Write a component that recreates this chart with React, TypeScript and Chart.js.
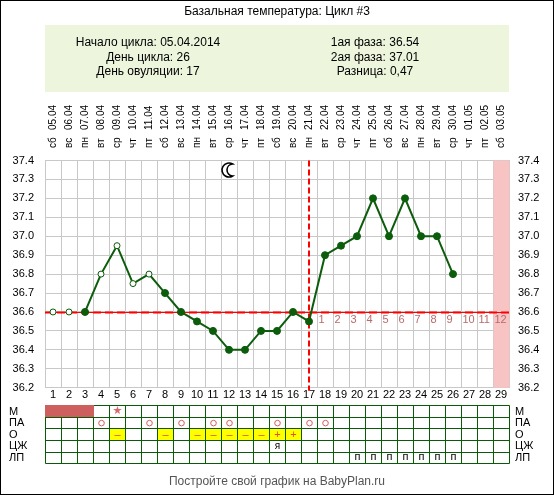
import { useEffect, useRef } from 'react';
import { Chart, registerables } from 'chart.js';

Chart.register(...registerables);

// ---------- data ----------
const days = ['1','2','3','4','5','6','7','8','9','10','11','12','13','14','15','16','17','18','19','20','21','22','23','24','25','26','27','28','29'];
const dates = ['05.04','06.04','07.04','08.04','09.04','10.04','11.04','12.04','13.04','14.04','15.04','16.04','17.04','18.04','19.04','20.04','21.04','22.04','23.04','24.04','25.04','26.04','27.04','28.04','29.04','30.04','01.05','02.05','03.05'];
const weekdays = ['сб','вс','пн','вт','ср','чт','пт','сб','вс','пн','вт','ср','чт','пт','сб','вс','пн','вт','ср','чт','пт','сб','вс','пн','вт','ср','чт','пт','сб'];
const temps = [36.6,36.6,36.6,36.8,36.95,36.75,36.8,36.7,36.6,36.55,36.5,36.4,36.4,36.5,36.5,36.6,36.55,36.9,36.95,37.0,37.2,37.0,37.2,37.0,37.0,36.8];
const openPointDays = [1,2,4,5,6,7];
const lineStartDay = 3;
const coverline = 36.6;
const ovulationDay = 17;
const phaseDays = [18,19,20,21,22,23,24,25,26,27,28,29];
const phaseLabels = ['1','2','3','4','5','6','7','8','9','10','11','12'];
const pinkDays = [29];
const moonDay = 12;
const moonValue = 37.35;
const yMin = 36.2;
const yMax = 37.4;
const yStep = 0.1;

const title = 'Базальная температура: Цикл #3';
const infoLeft = ['Начало цикла: 05.04.2014', 'День цикла: 26', 'День овуляции: 17'];
const infoRight = ['1ая фаза: 36.54', '2ая фаза: 37.01', 'Разница: 0,47'];
const footer = 'Постройте свой график на BabyPlan.ru';

const rowLabels = ['М','ПА','О','ЦЖ','ЛП'];
const mensDays = [1,2,3];
const mensStarDays = [5];
const paDays = [4,7,9,11,12,15,17,18];
const ovTestDays = [5,8,10,11,12,13,14,15,16];
const ovTestSigns = ['–','–','–','–','–','–','–','+','+'];
const cmDays = [15];
const cmMarks = ['я'];
const lpDays = [20,21,22,23,24,25,26];

// ---------- styles ----------
const FONT = '"Liberation Sans", Arial, sans-serif';
const GREEN = '#0b5c0b';
const GRID = '#c8c8c8';
const TABLE = '#0a5a0a';

function drawMoon(ctx: CanvasRenderingContext2D, cx: number, cy: number) {
  const R = 7;
  const d = 4;
  const r = 6;
  const ix = (d * d + R * R - r * r) / (2 * d);
  const h = Math.sqrt(R * R - ix * ix);
  ctx.save();
  ctx.translate(cx, cy);
  ctx.beginPath();
  ctx.arc(0, 0, R, Math.atan2(-h, ix), Math.atan2(h, ix), true);
  ctx.arc(d, 0, r, Math.atan2(h, ix - d), Math.atan2(-h, ix - d), false);
  ctx.closePath();
  ctx.fillStyle = '#fff';
  ctx.fill();
  ctx.strokeStyle = '#000';
  ctx.lineWidth = 1.6;
  ctx.stroke();
  ctx.restore();
}

const decor = {
  id: 'decor',
  beforeDraw(chart: any) {
    const { ctx } = chart;
    ctx.save();
    ctx.fillStyle = '#fff';
    ctx.fillRect(0, 0, chart.width, chart.height);
    const area = chart.chartArea;
    // header
    ctx.fillStyle = '#000';
    ctx.font = '12px ' + FONT;
    ctx.textAlign = 'center';
    ctx.textBaseline = 'middle';
    ctx.fillText(title, 277, 12);
    ctx.fillStyle = '#edf5dc';
    ctx.fillRect(area.left, 25, area.right - area.left, 67);
    ctx.fillStyle = '#000';
    infoLeft.forEach((t, i) => ctx.fillText(t, 148, 43 + i * 14.5));
    infoRight.forEach((t, i) => ctx.fillText(t, 375, 43 + i * 14.5));
    ctx.restore();
  },
  beforeDatasetsDraw(chart: any) {
    const { ctx } = chart;
    const area = chart.chartArea;
    const xs = chart.scales.x;
    const ys = chart.scales.y;
    const cw = xs.getPixelForValue(1) - xs.getPixelForValue(0);
    ctx.save();
    // pink column
    ctx.fillStyle = '#f8c3c3';
    pinkDays.forEach((d) => {
      const cx = xs.getPixelForValue(d - 1);
      ctx.fillRect(cx - cw / 2 + 0.5, area.top, cw, area.bottom - area.top);
    });
    // coverline
    const yc = Math.round(ys.getPixelForValue(coverline)) + 0.5;
    ctx.strokeStyle = '#ff0000';
    ctx.lineWidth = 1;
    ctx.beginPath();
    ctx.moveTo(area.left, yc);
    ctx.lineTo(area.right, yc);
    ctx.stroke();
    ctx.lineWidth = 2;
    ctx.setLineDash([8, 4]);
    ctx.beginPath();
    ctx.moveTo(area.left, yc);
    ctx.lineTo(area.right, yc);
    ctx.stroke();
    // ovulation line
    const xo = Math.round(xs.getPixelForValue(ovulationDay - 1));
    ctx.setLineDash([6, 3]);
    ctx.beginPath();
    ctx.moveTo(xo, area.top);
    ctx.lineTo(xo, area.bottom + 3);
    ctx.stroke();
    ctx.setLineDash([]);
    // phase numbers
    ctx.fillStyle = '#b86a6a';
    ctx.font = '11px ' + FONT;
    ctx.textAlign = 'left';
    ctx.textBaseline = 'middle';
    phaseDays.forEach((d, i) => {
      const cx = xs.getPixelForValue(d - 1);
      ctx.fillText(phaseLabels[i], cx - cw / 2 + 1.5, yc + 7);
    });
    // moon
    drawMoon(ctx, xs.getPixelForValue(moonDay - 1), ys.getPixelForValue(moonValue));
    ctx.restore();
  },
  afterDraw(chart: any) {
    const { ctx } = chart;
    const area = chart.chartArea;
    const xs = chart.scales.x;
    const cw = xs.getPixelForValue(1) - xs.getPixelForValue(0);
    const cellLeft = (d: number) => xs.getPixelForValue(d - 1) - cw / 2;
    const cellCenter = (d: number) => xs.getPixelForValue(d - 1);
    ctx.save();
    // top date labels
    ctx.fillStyle = '#000';
    ctx.font = '10px ' + FONT;
    ctx.textAlign = 'left';
    ctx.textBaseline = 'middle';
    days.forEach((_, i) => {
      const x = xs.getPixelForValue(i) + 0.5;
      ctx.save();
      ctx.translate(x, 148);
      ctx.rotate(-Math.PI / 2);
      ctx.fillText(weekdays[i], 0, 0);
      ctx.restore();
      ctx.save();
      ctx.translate(x, 130);
      ctx.rotate(-Math.PI / 2);
      ctx.fillText(dates[i], 0, 0);
      ctx.restore();
    });
    // table
    const T = area.bottom + 17.5;
    const rh = 11.6;
    const x0 = cellLeft(1);
    const x1 = cellLeft(days.length) + cw;
    const rowC = (r: number) => T + r * rh + rh / 2;
    ctx.fillStyle = '#fff';
    ctx.fillRect(x0, T, x1 - x0, rh * 5);
    ctx.fillStyle = '#ffff00';
    ovTestDays.forEach((d) => ctx.fillRect(cellLeft(d), T + 2 * rh, cw, rh));
    ctx.strokeStyle = TABLE;
    ctx.lineWidth = 1;
    ctx.beginPath();
    for (let k = 0; k <= days.length; k++) {
      const x = Math.round(x0 + k * cw) + 0.5;
      ctx.moveTo(x, Math.round(T) + 0.5);
      ctx.lineTo(x, Math.round(T + 5 * rh) + 0.5);
    }
    for (let r = 0; r <= 5; r++) {
      const y = Math.round(T + r * rh) + 0.5;
      ctx.moveTo(Math.round(x0) + 0.5, y);
      ctx.lineTo(Math.round(x1) + 0.5, y);
    }
    ctx.stroke();
    // mens block
    ctx.fillStyle = '#cd5f5f';
    const md0 = Math.min(...mensDays);
    const md1 = Math.max(...mensDays);
    ctx.fillRect(Math.round(cellLeft(md0)), Math.round(T), Math.round(cw * (md1 - md0 + 1)) + 1, Math.round(rh));
    // star
    ctx.fillStyle = '#d46a6a';
    ctx.font = '11px "DejaVu Sans"';
    ctx.textAlign = 'center';
    ctx.textBaseline = 'middle';
    mensStarDays.forEach((d) => ctx.fillText('★', cellCenter(d) + 0.5, rowC(0) + 0.5));
    // PA circles
    ctx.strokeStyle = '#d46060';
    paDays.forEach((d) => {
      ctx.beginPath();
      ctx.arc(cellCenter(d) + 0.5, rowC(1) + 0.5, 2.8, 0, Math.PI * 2);
      ctx.stroke();
    });
    // ov tests
    ctx.fillStyle = '#e0501e';
    ctx.font = '11px ' + FONT;
    ovTestDays.forEach((d, i) => ctx.fillText(ovTestSigns[i], cellCenter(d) + 0.5, rowC(2) + 0.5));
    // CM
    ctx.fillStyle = '#000';
    ctx.font = '10px ' + FONT;
    cmDays.forEach((d, i) => ctx.fillText(cmMarks[i], cellCenter(d) + 0.5, rowC(3) + 0.5));
    ctx.font = '11px ' + FONT;
    lpDays.forEach((d) => ctx.fillText('п', cellCenter(d) + 0.5, rowC(4)));
    // row labels
    ctx.fillStyle = '#000';
    ctx.font = '11px ' + FONT;
    ctx.textAlign = 'left';
    rowLabels.forEach((l, r) => {
      ctx.fillText(l, 9, rowC(r) + 0.5);
      ctx.fillText(l, 515, rowC(r) + 0.5);
    });
    // footer
    ctx.fillStyle = '#555';
    ctx.font = '12px ' + FONT;
    ctx.textAlign = 'center';
    ctx.fillText(footer, 277, 482);
    // outer border
    ctx.strokeStyle = '#000';
    ctx.lineWidth = 1;
    ctx.strokeRect(0.5, 0.5, chart.width - 1, chart.height - 1);
    ctx.restore();
  },
};

export default function App() {
  const ref = useRef<HTMLCanvasElement | null>(null);
  useEffect(() => {
    document.body.style.margin = '0';
    const canvas = ref.current;
    if (!canvas) return;
    const green = GREEN;
    const chart = new Chart(canvas, {
      type: 'line',
      data: {
        labels: days,
        datasets: [
          {
            data: temps,
            borderColor: green,
            borderWidth: 2,
            pointBorderColor: green,
            pointBorderWidth: 1,
            pointBackgroundColor: temps.map((_, i) => (openPointDays.includes(i + 1) ? '#ffffff' : green)),
            pointRadius: temps.map((_, i) => (openPointDays.includes(i + 1) ? 3 : 3.5)),
            tension: 0,
            clip: false as any,
            segment: {
              borderColor: (c: any) => (c.p1DataIndex < lineStartDay ? 'rgba(0,0,0,0)' : green),
            },
          } as any,
        ],
      },
      options: {
        animation: false,
        responsive: false,
        devicePixelRatio: window.devicePixelRatio || 1,
        layout: { padding: { top: 160.5, bottom: 89.3, left: 0, right: 0 } },
        plugins: { legend: { display: false }, tooltip: { enabled: false } },
        events: [],
        scales: {
          x: {
            type: 'category',
            position: 'bottom',
            offset: true,
            grid: { offset: true, color: GRID, drawTicks: false },
            border: { color: GRID },
            ticks: {
              autoSkip: false,
              maxRotation: 0,
              padding: 1,
              color: '#000',
              font: { family: FONT, size: 11 },
            },
            afterFit: (s: any) => { s.height = 18; },
          },
          y: {
            position: 'left',
            min: yMin,
            max: yMax,
            grid: { color: GRID, drawTicks: false },
            border: { color: GRID },
            ticks: {
              stepSize: yStep,
              padding: 11,
              color: '#000',
              font: { family: FONT, size: 11 },
              callback: (v: any) => Number(v).toFixed(1),
            },
            afterFit: (s: any) => { s.width = 45; },
          },
          y2: {
            position: 'right',
            min: yMin,
            max: yMax,
            grid: { display: false, drawTicks: false },
            border: { color: GRID },
            ticks: {
              stepSize: yStep,
              padding: 9,
              color: '#000',
              font: { family: FONT, size: 11 },
              callback: (v: any) => Number(v).toFixed(1),
            },
            afterFit: (s: any) => { s.width = 45; },
          },
        },
      } as any,
      plugins: [decor],
    });
    return () => chart.destroy();
  }, []);
  return (
    <div style={{ width: 554, height: 495 }}>
      <canvas ref={ref} width={554} height={495} style={{ width: 554, height: 495, display: 'block' }} />
    </div>
  );
}
